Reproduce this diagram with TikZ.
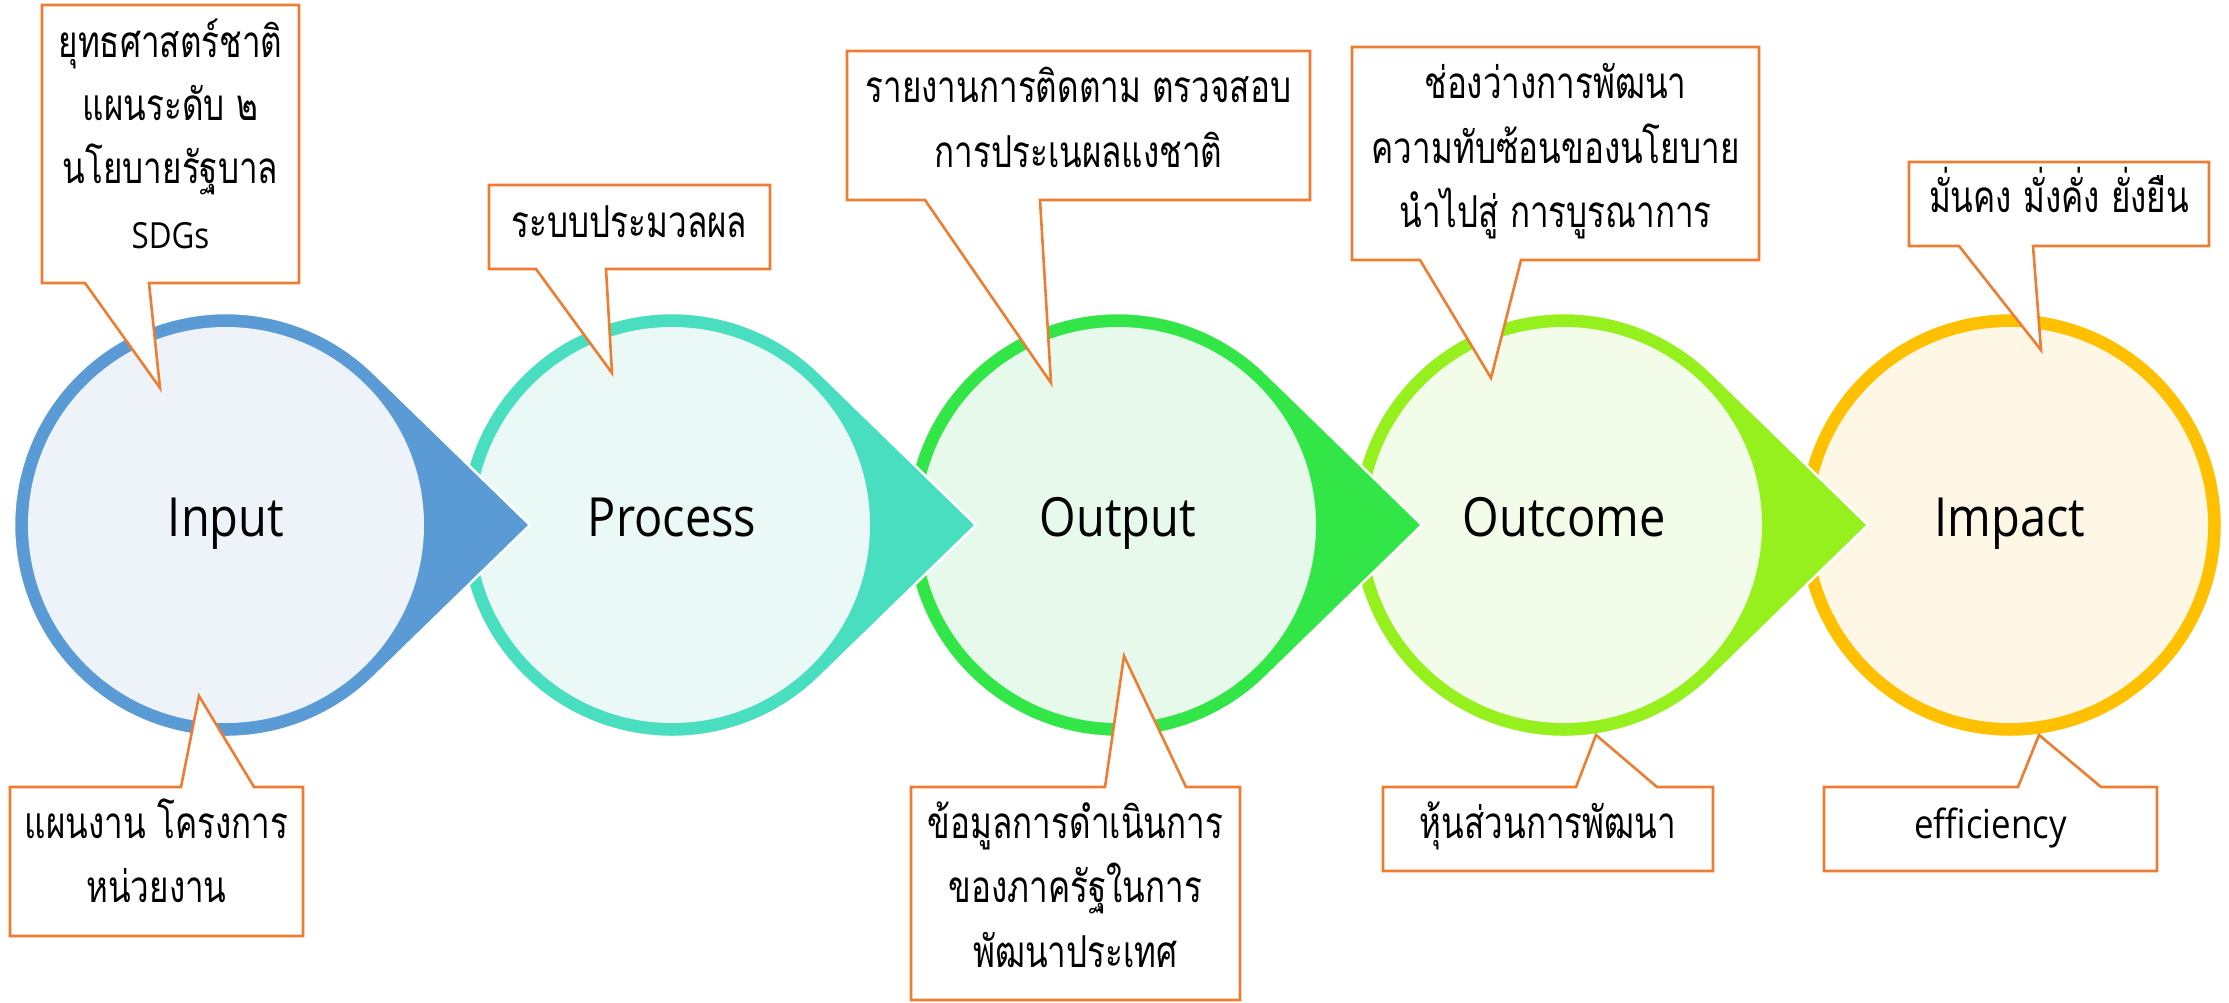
\documentclass[tikz,border=0pt]{standalone}
\usepackage{fontspec}
\setmainfont{Open Sans}
\newfontfamily\thaifont[Script=Thai,FakeStretch=0.755]{Loma}
\newfontfamily\labelfont[FakeStretch=0.87]{Open Sans}
\definecolor{calloutC}{HTML}{ED7D31}
\definecolor{ringA}{HTML}{5B9BD5}\definecolor{fillA}{HTML}{EEF3FA}
\definecolor{ringB}{HTML}{4ADEC0}\definecolor{fillB}{HTML}{EAF9F5}
\definecolor{ringC}{HTML}{32E648}\definecolor{fillC}{HTML}{E7F9EA}
\definecolor{ringD}{HTML}{96F01E}\definecolor{fillD}{HTML}{F2FCE9}
\definecolor{ringE}{HTML}{FFC000}\definecolor{fillE}{HTML}{FFF7E5}
\tikzset{
  callbox/.style={draw=calloutC, line width=2.6pt, fill=white, line join=miter},
  thaitxt/.style={font=\thaifont\fontsize{44}{52}\selectfont, anchor=base, inner sep=0pt},
  bigtxt/.style={font=\labelfont\fontsize{54}{60}\selectfont, anchor=base, inner sep=0pt},
  lattxt/.style={font=\labelfont\fontsize{40}{48}\selectfont, anchor=base, inner sep=0pt},
  shapeedge/.style={draw=white, line width=2.5pt}
}
\begin{document}
\begin{tikzpicture}[x=1pt,y=-1pt]
\useasboundingbox (0,0) rectangle (2229,1002);
% Impact circle (drawn first, rightmost)
\fill[ringE, shapeedge] (2010,525) circle[radius=212];
\fill[fillE] (2010,525) circle[radius=198];
% teardrops, right to left
\foreach \cx/\ring/\inner in {1564/ringD/fillD, 1118/ringC/fillC, 672/ringB/fillB, 226/ringA/fillA}{
  \filldraw[fill=\ring, shapeedge] (\cx+304,525) -- (\cx+147.8,677.0)
     arc[start angle=45.8, end angle=314.2, radius=212] -- cycle;
  \fill[\inner] (\cx,525) circle[radius=198];
}
% stage labels
\node[bigtxt] (input) at (226,536) {Input};
\node[bigtxt] (process) at (672,536) {Process};
\node[bigtxt] (output) at (1118,536) {Output};
\node[bigtxt] (outcome) at (1564,536) {Outcome};
\node[bigtxt] (impact) at (2010,536) {Impact};
% callouts above
\filldraw[callbox] (42,5) -- (299,5) -- (299,283) -- (149,283) -- (160,388) -- (85,283) -- (42,283) -- cycle;
\filldraw[callbox] (489,185) -- (770,185) -- (770,269) -- (606,269) -- (612,373) -- (536,269) -- (489,269) -- cycle;
\filldraw[callbox] (847,51) -- (1310,51) -- (1310,200) -- (1040,200) -- (1051,383) -- (925,200) -- (847,200) -- cycle;
\filldraw[callbox] (1352,47) -- (1759,47) -- (1759,260) -- (1521,260) -- (1491,378) -- (1420,260) -- (1352,260) -- cycle;
\filldraw[callbox] (1909,162) -- (2209,162) -- (2209,246) -- (2033,246) -- (2041,350) -- (1959,246) -- (1909,246) -- cycle;
% callouts below
\filldraw[callbox] (10,787) -- (181,787) -- (199,696) -- (254,787) -- (303,787) -- (303,936) -- (10,936) -- cycle;
\filldraw[callbox] (911,787) -- (1105,787) -- (1124,656) -- (1186,787) -- (1240,787) -- (1240,1000) -- (911,1000) -- cycle;
\filldraw[callbox] (1383,787) -- (1576,787) -- (1596,735) -- (1657,787) -- (1713,787) -- (1713,871) -- (1383,871) -- cycle;
\filldraw[callbox] (1824,787) -- (2018,787) -- (2039,735) -- (2101,787) -- (2157,787) -- (2157,871) -- (1824,871) -- cycle;
% callout texts
\node[thaitxt] (a1) at (170.5,57) {ยุทธศาสตร์ชาติ};
\node[thaitxt] (a2) at (170.5,120) {แผนระดับ ๒};
\node[thaitxt] (a3) at (170.5,183) {นโยบายรัฐบาล};
\node[lattxt, font=\labelfont\fontsize{36}{40}\selectfont] (a4) at (170.5,248) {SDGs};
\node[thaitxt] (b1) at (629.5,237) {ระบบประมวลผล};
\node[thaitxt] (c1) at (1078.5,102) {รายงานการติดตาม ตรวจสอบ};
\node[thaitxt] (c2) at (1078.5,167) {การประเนผลแงชาติ};
\node[thaitxt] (d1) at (1555.5,98) {ช่องว่างการพัฒนา};
\node[thaitxt] (d2) at (1555.5,163) {ความทับซ้อนของนโยบาย};
\node[thaitxt] (d3) at (1555.5,227) {นำไปสู่ การบูรณาการ};
\node[thaitxt] (e1) at (2059,212) {มั่นคง มั่งคั่ง ยั่งยืน};
\node[thaitxt] (f1) at (156.5,838) {แผนงาน โครงการ};
\node[thaitxt] (f2) at (156.5,902) {หน่วยงาน};
\node[thaitxt] (g1) at (1075.5,838) {ข้อมูลการดำเนินการ};
\node[thaitxt] (g2) at (1075.5,902) {ของภาครัฐในการ};
\node[thaitxt] (g3) at (1075.5,967) {พัฒนาประเทศ};
\node[thaitxt] (h1) at (1548,838) {หุ้นส่วนการพัฒนา};
\node[lattxt] (i1) at (1990.5,838) {efficiency};
\end{tikzpicture}
\end{document}
